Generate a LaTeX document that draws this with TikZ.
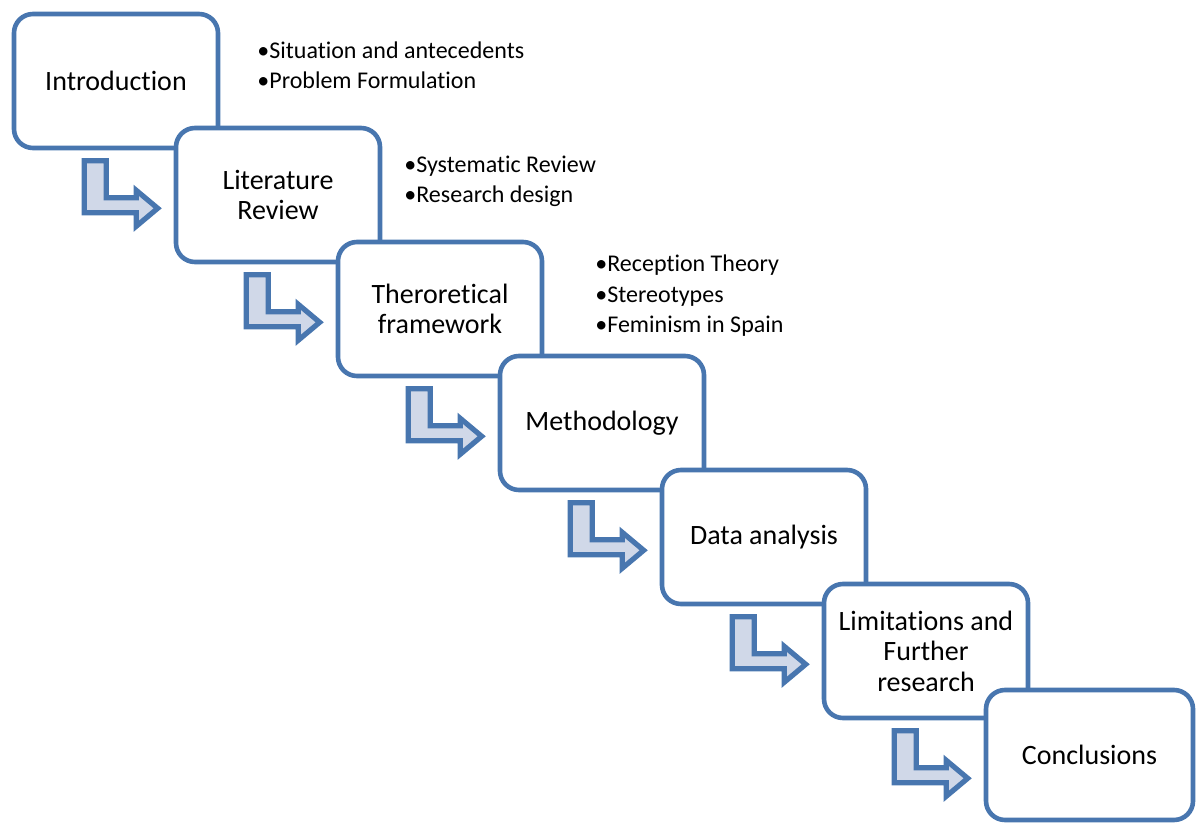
\documentclass[tikz,border=0pt]{standalone}
\usepackage{fontspec}
\setmainfont[Ligatures={NoCommon}]{Carlito}
\definecolor{bord}{RGB}{72,118,175}
\definecolor{afill}{RGB}{208,216,232}
\begin{document}
\begin{tikzpicture}[x=0.5pt,y=-0.5pt,
  stage/.style={draw=bord, line width=2.3pt, fill=white, rounded corners=9.5pt,
    minimum width=102pt, minimum height=67pt, inner sep=0pt, align=center,
    font=\fontsize{14}{15.25}\selectfont},
  bul/.style={anchor=west, align=left, inner sep=0pt,
    font=\fontsize{12}{15.25}\selectfont},
  larrow/.pic={\draw[draw=bord, fill=afill, line width=2.6pt]
    (72.5,10.5) -- (94.5,10.5) -- (94.5,47.5) -- (124.5,47.5) -- (124.5,40)
    -- (146,58) -- (124.5,76) -- (124.5,62.5) -- (72.5,62.5) -- cycle;}]
\useasboundingbox (0,0) rectangle (1198,823);

\node[stage] (b1) at (116,81) {Introduction};
\node[stage] (b2) at (278,195) {Literature\\Review};
\node[stage] (b3) at (440,309) {Theroretical\\framework};
\node[stage] (b4) at (602,423) {Methodology};
\node[stage] (b5) at (764,537) {Data analysis};
\node[stage] (b6) at (926,651) {Limitations and\\Further\\research};
\node[stage, minimum width=103.5pt, minimum height=65pt] (b7) at (1089.5,755) {Conclusions};

\pic at (b1.south west) {larrow};
\pic at (b2.south west) {larrow};
\pic at (b3.south west) {larrow};
\pic at (b4.south west) {larrow};
\pic at (b5.south west) {larrow};
\pic at (b6.south west) {larrow};

\node[bul] (l1) at (257,65.5) {•Situation and antecedents\\•Problem Formulation};
\node[bul] (l2) at (404,181.5) {•Systematic Review\\•Research design};
\node[bul] (l3) at (595,296) {•Reception Theory\\•Stereotypes\\•Feminism in Spain};
\end{tikzpicture}
\end{document}
